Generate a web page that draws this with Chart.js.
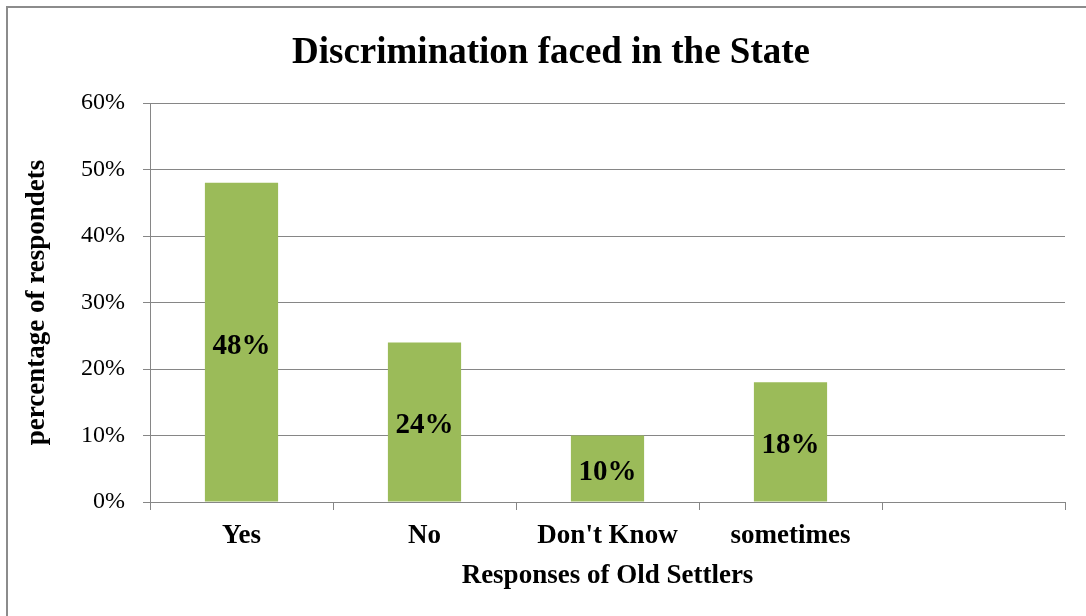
<!DOCTYPE html>
<html>
<head>
<meta charset="utf-8">
<script src="https://cdn.jsdelivr.net/npm/chart.js@4"></script>
<style>
  html, body { margin: 0; padding: 0; background: #fff; }
  #wrap { position: relative; width: 1086px; height: 616px; }
</style>
</head>
<body>
<div id="wrap"><canvas id="discChart"></canvas></div>
<script>
const responses = ['Yes', 'No', "Don't Know", 'sometimes', ''];
const percentages = [48, 24, 10, 18, null];
const yTicks = [0, 10, 20, 30, 40, 50, 60];

const serif = "'Liberation Serif', 'Times New Roman', serif";
const gridGray = '#868686';

// outer frame around the whole chart
const framePlugin = {
  id: 'frame',
  beforeDraw(chart) {
    const ctx = chart.ctx;
    ctx.save();
    ctx.fillStyle = '#fff';
    ctx.fillRect(0, 0, chart.width, chart.height);
    ctx.strokeStyle = '#8c8c8c';
    ctx.lineWidth = 2;
    ctx.strokeRect(7, 7, chart.width + 20, chart.height + 20);
    ctx.restore();
  }
};

// value labels in the middle of each bar
const barLabels = {
  id: 'barLabels',
  afterDatasetsDraw(chart) {
    const ctx = chart.ctx;
    const meta = chart.getDatasetMeta(0);
    ctx.save();
    ctx.font = 'bold 29px ' + serif;
    ctx.fillStyle = '#000';
    ctx.textAlign = 'center';
    ctx.textBaseline = 'middle';
    meta.data.forEach((bar, i) => {
      const v = percentages[i];
      if (v == null) return;
      ctx.fillText(v + '%', bar.x, (bar.y + bar.base) / 2 + 4);
    });
    ctx.restore();
  }
};

const ctx = document.getElementById('discChart');
new Chart(ctx, {
  type: 'bar',
  data: {
    labels: responses,
    datasets: [{
      data: percentages,
      backgroundColor: '#9BBB59',
      borderWidth: 0,
      categoryPercentage: 1,
      barPercentage: 0.4,
    }],
  },
  options: {
    responsive: true,
    maintainAspectRatio: false,
    animation: false,
    layout: {
      padding: { left: 37, right: 21, top: 10, bottom: 0 },
    },
    plugins: {
      legend: { display: false },
      tooltip: { enabled: false },
      title: {
        display: true,
        text: 'Discrimination faced in the State',
        color: '#000',
        font: { family: serif, size: 37, weight: 'bold' },
        padding: { top: 21, bottom: 27.6 },
      },
    },
    scales: {
      x: {
        grid: {
          display: true,
          offset: true,
          drawOnChartArea: false,
          drawTicks: true,
          tickLength: 8,
          color: gridGray,
        },
        border: { color: gridGray, width: 1 },
        ticks: {
          color: '#000',
          font: { family: serif, size: 27, weight: 'bold' },
          padding: 10,
          maxRotation: 0,
        },
        title: {
          display: true,
          text: 'Responses of Old Settlers',
          color: '#000',
          font: { family: serif, size: 27, weight: 'bold' },
          padding: { top: 0, bottom: 24 },
        },
        afterFit(scale) { scale.height = 114; },
      },
      y: {
        min: 0,
        max: 60,
        afterBuildTicks(scale) {
          scale.ticks = yTicks.map(v => ({ value: v }));
        },
        grid: {
          color: gridGray,
          tickLength: 7,
        },
        border: { color: gridGray, width: 1 },
        ticks: {
          color: '#000',
          font: { family: serif, size: 24 },
          padding: 18,
          callback: v => v + '%',
        },
        title: {
          display: true,
          text: 'percentage of respondets',
          color: '#000',
          font: { family: serif, size: 27, weight: 'bold' },
          padding: { top: -16, bottom: 0 },
        },
        afterFit(scale) { scale.width = 113; },
      },
    },
  },
  plugins: [framePlugin, barLabels],
});
</script>
</body>
</html>
